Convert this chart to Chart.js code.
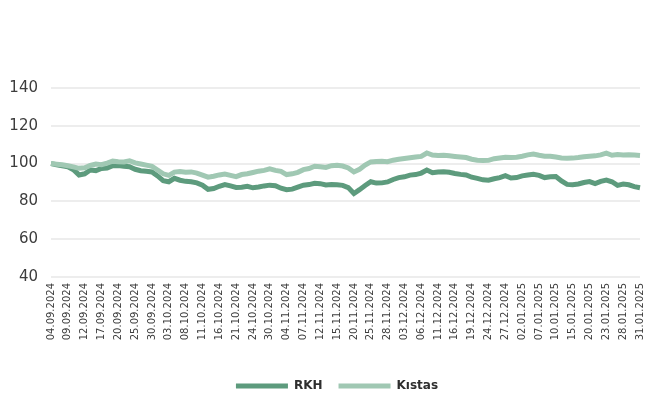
<!DOCTYPE html>
<html lang="tr">
<head>
<meta charset="utf-8">
<title>RKH - Kıstas</title>
<script src="https://cdn.jsdelivr.net/npm/chart.js@4/dist/chart.umd.min.js"></script>
<style>
    html, body { margin: 0; padding: 0; background: #ffffff; }
    #wrap { position: relative; width: 652px; height: 397px; }
</style>
</head>
<body>
<div id="wrap"><canvas id="perfChart"></canvas></div>
<script>
// Business days, 04.09.2024 - 31.01.2025
const dates = [
    '04.09.2024', '05.09.2024', '06.09.2024', '09.09.2024', '10.09.2024', '11.09.2024', '12.09.2024', '13.09.2024',
    '16.09.2024', '17.09.2024', '18.09.2024', '19.09.2024', '20.09.2024', '23.09.2024', '24.09.2024', '25.09.2024',
    '26.09.2024', '27.09.2024', '30.09.2024', '01.10.2024', '02.10.2024', '03.10.2024', '04.10.2024', '07.10.2024',
    '08.10.2024', '09.10.2024', '10.10.2024', '11.10.2024', '14.10.2024', '15.10.2024', '16.10.2024', '17.10.2024',
    '18.10.2024', '21.10.2024', '22.10.2024', '23.10.2024', '24.10.2024', '25.10.2024', '28.10.2024', '30.10.2024',
    '31.10.2024', '01.11.2024', '04.11.2024', '05.11.2024', '06.11.2024', '07.11.2024', '08.11.2024', '11.11.2024',
    '12.11.2024', '13.11.2024', '14.11.2024', '15.11.2024', '18.11.2024', '19.11.2024', '20.11.2024', '21.11.2024',
    '22.11.2024', '25.11.2024', '26.11.2024', '27.11.2024', '28.11.2024', '29.11.2024', '02.12.2024', '03.12.2024',
    '04.12.2024', '05.12.2024', '06.12.2024', '09.12.2024', '10.12.2024', '11.12.2024', '12.12.2024', '13.12.2024',
    '16.12.2024', '17.12.2024', '18.12.2024', '19.12.2024', '20.12.2024', '23.12.2024', '24.12.2024', '25.12.2024',
    '26.12.2024', '27.12.2024', '30.12.2024', '31.12.2024', '02.01.2025', '03.01.2025', '06.01.2025', '07.01.2025',
    '08.01.2025', '09.01.2025', '10.01.2025', '13.01.2025', '14.01.2025', '15.01.2025', '16.01.2025', '17.01.2025',
    '20.01.2025', '21.01.2025', '22.01.2025', '23.01.2025', '24.01.2025', '27.01.2025', '28.01.2025', '29.01.2025',
    '30.01.2025', '31.01.2025'
];

// Fund index (start = 100)
const rkh = [
    100.0, 99.4, 98.8, 98.3, 96.8, 94.0, 94.6, 96.6, 96.3, 97.4, 97.6, 98.9, 99.0, 98.6, 98.3, 97.0,
    96.2, 95.9, 95.6, 93.5, 91.0, 90.4, 92.2, 91.2, 90.6, 90.4, 89.8, 88.6, 86.4, 86.8, 88.0, 88.9,
    88.2, 87.4, 87.5, 88.0, 87.2, 87.6, 88.2, 88.6, 88.3, 87.0, 86.2, 86.5, 87.6, 88.6, 88.9, 89.6,
    89.4, 88.7, 88.9, 88.8, 88.5, 87.3, 84.2, 86.2, 88.4, 90.4, 89.7, 89.8, 90.3, 91.6, 92.6, 93.0,
    93.9, 94.2, 95.0, 96.6, 95.2, 95.6, 95.7, 95.4, 94.8, 94.3, 94.0, 92.8, 92.2, 91.4, 91.2, 92.0,
    92.6, 93.6, 92.4, 92.6, 93.5, 94.0, 94.4, 93.8, 92.6, 93.0, 93.1, 90.8, 89.0, 88.8, 89.2, 90.0,
    90.5, 89.4, 90.6, 91.3, 90.4, 88.5, 89.2, 88.8, 87.8, 87.2
];

// Benchmark index (start = 100)
const kistas = [
    100.0, 99.7, 99.4, 98.9, 98.3, 97.5, 97.8, 99.0, 99.8, 99.4, 100.3, 101.3, 101.0, 100.9, 101.5, 100.4,
    99.8, 99.2, 98.6, 96.6, 94.6, 93.8, 95.5, 95.8, 95.4, 95.6, 95.0, 93.9, 92.8, 93.3, 94.0, 94.5,
    93.8, 93.1, 94.2, 94.6, 95.3, 96.0, 96.4, 97.2, 96.4, 95.9, 94.2, 94.6, 95.4, 96.8, 97.4, 98.6,
    98.3, 98.0, 98.9, 99.1, 98.7, 97.7, 95.6, 97.0, 99.2, 100.9, 101.1, 101.2, 101.0, 101.8, 102.3, 102.7,
    103.1, 103.5, 103.8, 105.6, 104.5, 104.3, 104.4, 104.1, 103.8, 103.5, 103.2, 102.3, 101.8, 101.6, 101.7, 102.6,
    103.0, 103.4, 103.2, 103.4, 103.9, 104.6, 105.1, 104.4, 103.9, 103.9, 103.5, 103.0, 102.8, 102.9, 103.2, 103.6,
    103.9, 104.1, 104.6, 105.5, 104.4, 104.8, 104.6, 104.7, 104.5, 104.3
];

const yMin = 40;
const yMax = 140;
const yStep = 20;
const labelEvery = 3;

const colors = {
    rkh: '#5d9b7d',
    kistas: '#a0c8b3',
    grid: '#ededed',
    tick: '#3d3d3d',
    legend: '#2e2e2e'
};

// nudge the bottom legend to the right of the canvas centre
const legendShift = {
    id: 'legendShift',
    afterLayout(chart) {
        chart.legend.left += 17;
        chart.legend.right += 17;
    }
};

const ctx = document.getElementById('perfChart').getContext('2d');

new Chart(ctx, {
    type: 'line',
    data: {
        labels: dates,
        datasets: [
            {
                label: 'RKH',
                data: rkh,
                borderColor: colors.rkh,
                backgroundColor: colors.rkh,
                borderWidth: 5,
                pointRadius: 0,
                tension: 0,
                order: 1
            },
            {
                label: 'Kıstas',
                data: kistas,
                borderColor: colors.kistas,
                backgroundColor: colors.kistas,
                borderWidth: 5,
                pointRadius: 0,
                tension: 0,
                order: 0
            }
        ]
    },
    plugins: [legendShift],
    options: {
        responsive: true,
        maintainAspectRatio: false,
        animation: false,
        layout: {
            padding: { top: 88, right: 12, bottom: -5, left: 0 }
        },
        plugins: {
            tooltip: { enabled: false },
            legend: {
                position: 'bottom',
                labels: {
                    boxWidth: 52,
                    boxHeight: 5,
                    padding: 16,
                    color: colors.legend,
                    font: { family: 'DejaVu Sans', size: 12, weight: 'bold' },
                    // keep data order in the legend, plain filled bars
                    generateLabels: (chart) => chart.data.datasets.map((ds, i) => ({
                        text: ds.label,
                        fillStyle: ds.borderColor,
                        strokeStyle: ds.borderColor,
                        lineWidth: 0,
                        fontColor: colors.legend,
                        datasetIndex: i
                    }))
                }
            }
        },
        scales: {
            x: {
                offset: false,
                grid: { display: false, drawTicks: false },
                border: { display: false },
                afterFit: (scale) => {
                    scale.height = 87;
                    // rotated end labels need no extra side room
                    scale.paddingLeft = 0;
                    scale.paddingRight = 0;
                },
                ticks: {
                    autoSkip: false,
                    maxRotation: 90,
                    minRotation: 90,
                    padding: 6,
                    color: colors.tick,
                    font: { family: 'DejaVu Sans', size: 10 },
                    callback: function (value, index) {
                        return index % labelEvery === 0 ? this.getLabelForValue(value) : '';
                    }
                }
            },
            y: {
                min: yMin,
                max: yMax,
                afterFit: (scale) => { scale.width = 51; },
                grid: { color: colors.grid, lineWidth: 2, drawTicks: false },
                border: { display: false },
                ticks: {
                    stepSize: yStep,
                    padding: 13,
                    color: colors.tick,
                    font: { family: 'DejaVu Sans', size: 15 }
                }
            }
        }
    }
});
</script>
</body>
</html>
